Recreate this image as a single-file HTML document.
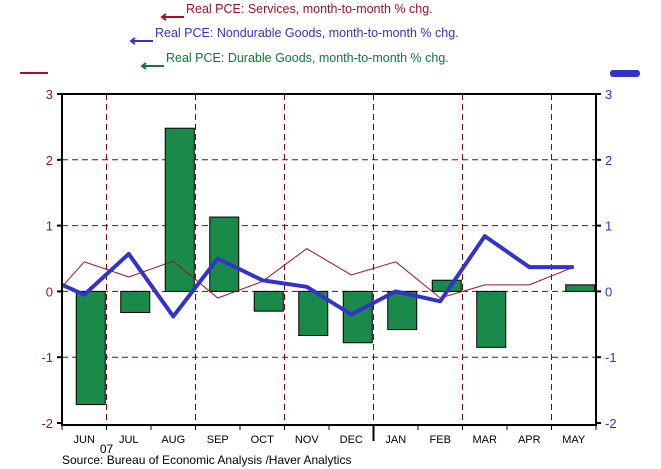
<!DOCTYPE html>
<html><head><meta charset="utf-8"><style>
body{margin:0;background:#fff;}
svg{display:block;font-family:"Liberation Sans",Arial,sans-serif;}
</style></head><body>
<svg id="c" width="661" height="469">
<g>
<text x="186" y="13" fill="#a0102a" font-size="12.5">Real PCE: Services, month-to-month % chg.</text>
<path d="M162 17 H184 M166 14 L162 17 L166 20" stroke="#a0102a" stroke-width="2" fill="none"/>
<text x="155" y="37" fill="#3333cc" font-size="12.5">Real PCE: Nondurable Goods, month-to-month % chg.</text>
<path d="M131 41 H153 M135 38 L131 41 L135 44" stroke="#3333cc" stroke-width="2" fill="none"/>
<text x="166" y="62" fill="#0b7a3a" font-size="12.5">Real PCE: Durable Goods, month-to-month % chg.</text>
<path d="M142 66 H164 M146 63 L142 66 L146 69" stroke="#0b7a3a" stroke-width="2" fill="none"/>
<line x1="20" y1="73" x2="48" y2="73" stroke="#a0102a" stroke-width="2"/>
<rect x="610" y="70" width="30" height="7" rx="3" fill="#3333cc"/>
</g>
<g id="grid"></g><g id="bars"></g><g id="lines"></g><g id="axes"></g>
<text x="62" y="464" font-size="12" fill="#000">Source:  Bureau of Economic Analysis /Haver Analytics</text>
</svg>
<script>
const months=["JUN","JUL","AUG","SEP","OCT","NOV","DEC","JAN","FEB","MAR","APR","MAY"];
const durable=[-1.72,-0.32,2.48,1.13,-0.3,-0.67,-0.78,-0.58,0.17,-0.85,0,0.1];
const nondurable=[-0.05,0.57,-0.38,0.5,0.17,0.07,-0.35,0.0,-0.15,0.84,0.37,0.37];
const services=[0.45,0.22,0.46,-0.1,0.15,0.65,0.25,0.45,-0.1,0.1,0.1,0.37];
const nondurableStart=0.1, servicesStart=0.07;
const yTicks=[3,2,1,0,-1,-2];
const L=62,R=596,T=94,B=425;
const bw=(R-L)/months.length;
const y=v=>T+(3-v)*(B-T)/5.03;
const x=i=>L+bw*(i+0.5);
const NS="http://www.w3.org/2000/svg";
function mk(p,t,a){const e=document.createElementNS(NS,t);for(const k in a)e.setAttribute(k,a[k]);document.getElementById(p).appendChild(e);return e;}
for(let i=1;i<months.length;i++){if(i%2===1){const e=mk('grid','line',{x1:L+bw*i,x2:L+bw*i,y1:T,y2:B,stroke:'#8b0000','stroke-dasharray':'6,4','stroke-width':1});

}}
yTicks.forEach(v=>{if(v===3||v===-2)return;const e=mk('grid','line',{x1:L,x2:R,y1:y(v),y2:y(v),stroke:'#8b0000','stroke-dasharray':'6,4','stroke-width':1});

});
durable.forEach((v,i)=>{if(v===0)return;const e=mk('bars','rect',{x:x(i)-8,width:29,y:Math.min(y(v),y(0)),height:Math.abs(y(v)-y(0)),fill:'#1a8a4a',stroke:'#000','stroke-width':1});

});
let sp=[[L,y(servicesStart)]].concat(services.map((v,i)=>[x(i),y(v)]));
const s=mk('lines','polyline',{points:sp.join(' '),fill:'none',stroke:'#a0102a','stroke-width':1});


let np=[[L,y(nondurableStart)]].concat(nondurable.map((v,i)=>[x(i),y(v)]));
const n=mk('lines','polyline',{points:np.join(' '),fill:'none',stroke:'#3333cc','stroke-width':4,'stroke-linejoin':'round'});


const fr=mk('axes','rect',{x:L,y:T,width:R-L,height:B-T,fill:'none',stroke:'#000','stroke-width':2});


yTicks.forEach(v=>{
mk('axes','line',{x1:L-5,x2:L,y1:y(v),y2:y(v),stroke:'#000','stroke-width':2});
mk('axes','line',{x1:R,x2:R+5,y1:y(v),y2:y(v),stroke:'#000','stroke-width':2});
const a=mk('axes','text',{x:L-9,y:y(v)+5,'text-anchor':'end','font-size':13,fill:'#a0102a'});a.textContent=v;


const b=mk('axes','text',{x:R+9,y:y(v)+5,'font-size':13,fill:'#3333cc'});b.textContent=v;

});
months.forEach((m,i)=>{
mk('axes','line',{x1:L+bw*i,x2:L+bw*i,y1:B,y2:B+5,stroke:'#000'});
const t=mk('axes','text',{x:x(i),y:B+18,'text-anchor':'middle','font-size':11,fill:'#000'});t.textContent=m;

});
mk('axes','line',{x1:R,x2:R,y1:B,y2:B+5,stroke:'#000'});
mk('axes','line',{x1:L+bw*7,x2:L+bw*7,y1:B,y2:B+16,stroke:'#000','stroke-width':2});
const yr=mk('axes','text',{x:L+bw,y:B+28,'text-anchor':'middle','font-size':12,fill:'#000'});yr.textContent='07';


</script>
</body></html>
